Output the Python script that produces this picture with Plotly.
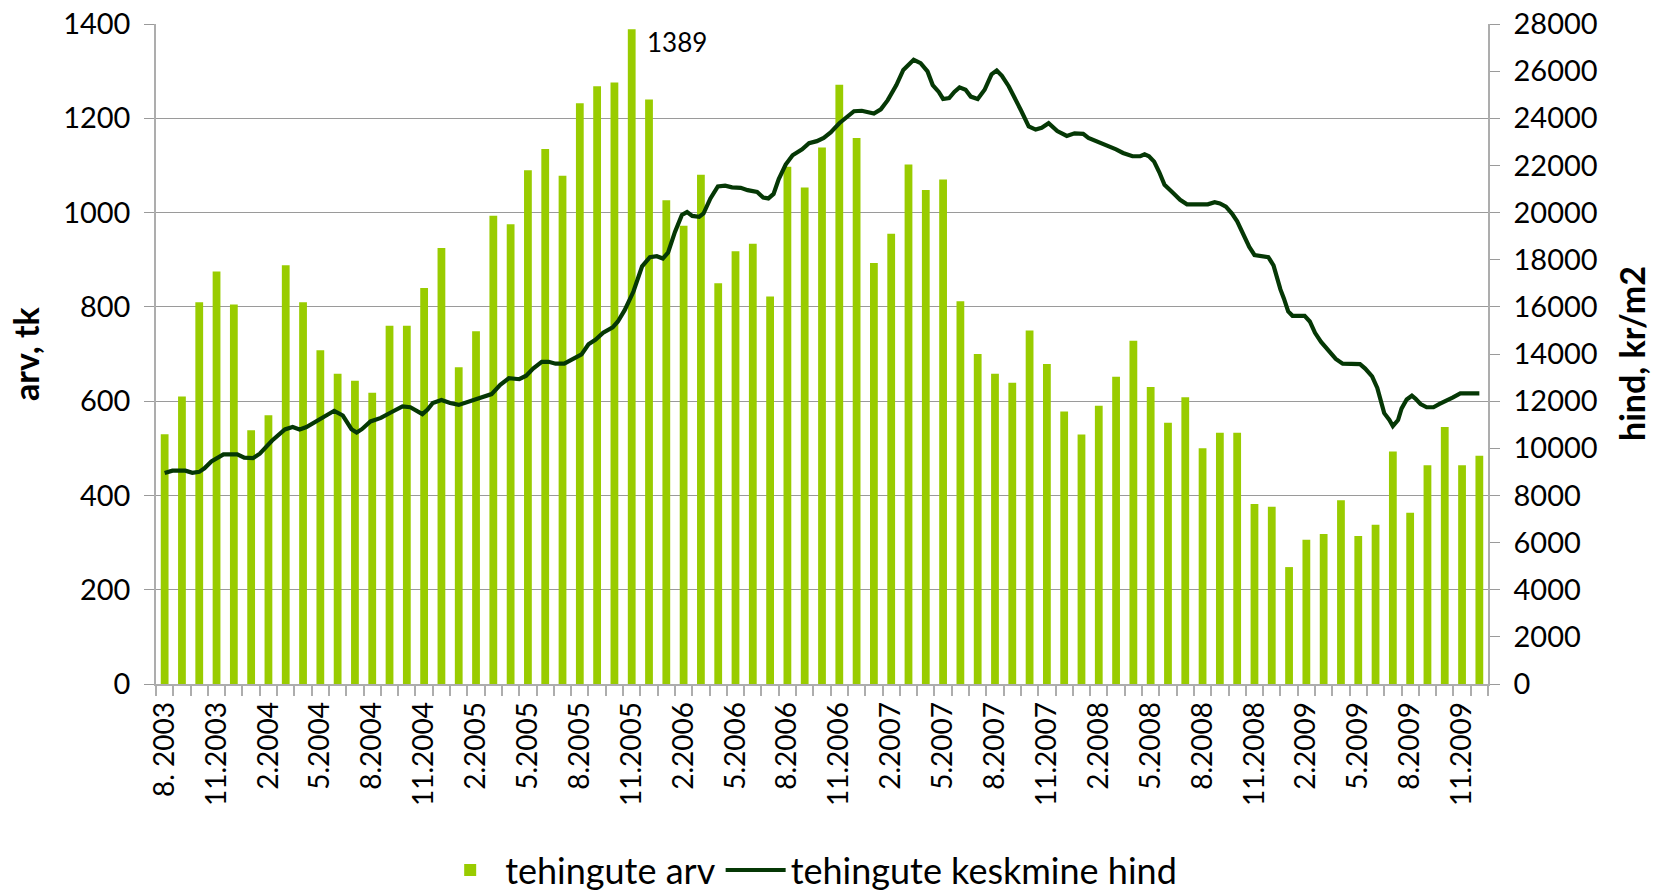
import plotly.graph_objects as go

# ---------------- data ----------------
# monthly number of transactions, 8.2003 ... 12.2009 (77 months)
deal_counts = [
    530, 610, 810, 875, 805, 538, 570, 888, 810, 708, 658, 643,
    618, 760, 760, 840, 925, 672, 748, 993, 975, 1090, 1135, 1078,
    1232, 1268, 1276, 1389, 1240, 1026, 972, 1080, 850, 918, 934, 822,
    1097, 1053, 1138, 1271, 1158, 893, 955, 1102, 1048, 1070, 812, 700,
    658, 639, 750, 679, 578, 529, 590, 652, 728, 630, 554, 608,
    500, 533, 533, 382, 376, 248, 306, 318, 390, 314, 338, 493,
    363, 464, 545, 464, 484,
]

# x tick labels (every third month)
tick_labels = [
    "8. 2003", "11.2003", "2.2004", "5.2004", "8.2004", "11.2004",
    "2.2005", "5.2005", "8.2005", "11.2005", "2.2006", "5.2006",
    "8.2006", "11.2006", "2.2007", "5.2007", "8.2007", "11.2007",
    "2.2008", "5.2008", "8.2008", "11.2008", "2.2009", "5.2009",
    "8.2009", "11.2009",
]

# average price (kr/m2), moving average, months elapsed since 8.2003
price_month = [
    0.0, 0.45, 1.2, 1.6, 2.0, 2.3, 2.7, 3.4, 4.2, 4.6, 5.1, 5.5, 6.2, 6.95,
    7.4, 7.8, 8.2, 8.9, 9.3, 9.8, 10.3, 10.8, 11.1, 11.4, 11.9, 12.5, 13.1,
    13.75, 14.2, 14.6, 14.9, 15.2, 15.5, 16.0, 16.5, 17.0, 17.5, 18.0, 18.5,
    18.9, 19.4, 19.9, 20.5, 20.9, 21.3, 21.8, 22.2, 22.6, 23.1, 23.7, 24.1,
    24.5, 24.9, 25.35, 25.9, 26.2, 26.6, 27.1, 27.6, 28.05, 28.45, 28.8,
    29.1, 29.5, 29.9, 30.2, 30.5, 30.9, 31.15, 31.55, 31.98, 32.4, 32.8,
    33.3, 33.7, 34.25, 34.6, 34.9, 35.2, 35.5, 35.9, 36.3, 36.85, 37.25,
    37.7, 38.1, 38.5, 39.0, 39.4, 39.85, 40.3, 40.7, 41.0, 41.4, 41.8, 42.3,
    42.7, 43.3, 43.7, 44.1, 44.4, 44.75, 45.0, 45.35, 45.65, 45.95, 46.3,
    46.6, 47.0, 47.4, 47.8, 48.1, 48.4, 48.8, 49.2, 49.5, 49.95, 50.35,
    50.7, 51.1, 51.6, 52.15, 52.6, 53.1, 53.4, 53.95, 54.5, 55.0, 55.4,
    55.95, 56.4, 56.65, 56.9, 57.2, 57.5, 57.8, 58.3, 58.7, 59.1, 59.7,
    60.3, 60.7, 61.0, 61.35, 61.7, 62.0, 62.4, 62.7, 63.0, 63.5, 63.8,
    64.1, 64.3, 64.5, 64.7, 64.95, 65.2, 65.6, 65.9, 66.2, 66.5, 66.85,
    67.3, 67.7, 68.1, 68.6, 69.1, 69.4, 69.8, 70.1, 70.3, 70.5, 70.8,
    71.0, 71.3, 71.5, 71.8, 72.1, 72.3, 72.6, 72.95, 73.35, 73.7, 74.0,
    74.45, 74.9, 75.4, 76.0,
]
price_value = [
    8950, 9050, 9050, 8960, 9000, 9150, 9440, 9740, 9740, 9600, 9580, 9770,
    10320, 10800, 10900, 10800, 10900, 11220, 11390, 11590, 11390, 10810,
    10670, 10810, 11140, 11290, 11530, 11780, 11740, 11550, 11450, 11640,
    11920, 12050, 11920, 11840, 11960, 12070, 12170, 12300, 12690, 12970,
    12930, 13080, 13380, 13670, 13670, 13590, 13590, 13820, 13980, 14410,
    14600, 14900, 15130, 15380, 15870, 16650, 17720, 18110, 18150, 18050,
    18300, 19180, 19900, 20020, 19860, 19820, 19960, 20600, 21110, 21140,
    21070, 21050, 20950, 20870, 20640, 20600, 20790, 21420, 22040, 22430,
    22680, 22940, 23030, 23170, 23400, 23790, 24050, 24300, 24320, 24240,
    24200, 24380, 24770, 25410, 26050, 26480, 26340, 25990, 25410, 25120,
    24820, 24860, 25120, 25310, 25210, 24920, 24820, 25210, 25860, 26030,
    25800, 25350, 24820, 24340, 23660, 23520, 23600, 23790, 23460, 23250,
    23360, 23340, 23170, 23010, 22840, 22680, 22530, 22390, 22390, 22470,
    22390, 22160, 21710, 21180, 20830, 20540, 20350, 20350, 20350, 20440,
    20390, 20250, 19960, 19630, 19040, 18540, 18200, 18150, 18110, 17760,
    17230, 16740, 16360, 15810, 15620, 15620, 15620, 15380, 14900, 14510,
    14120, 13790, 13590, 13590, 13570, 13380, 13050, 12560, 12070, 11490,
    11200, 10940, 11200, 11680, 12070, 12230, 12110, 11880, 11740, 11740,
    11880, 11970, 12150, 12330, 12330, 12330,
]

bar_name = "tehingute arv"
line_name = "tehingute keskmine hind"
left_title = "arv, tk"
right_title = "hind, kr/m2"

# ---------------- styling ----------------
BAR_COLOR = "#99CC00"
LINE_COLOR = "#053805"
GRID_COLOR = "#9A9A9A"
AXIS_COLOR = "#ADADAD"
FONT = "Lato, 'Open Sans', sans-serif"

n = len(deal_counts)
positions = list(range(n))
tick_positions = positions[::3]
boundaries = [p - 0.5 for p in positions] + [n - 0.5]

fig = go.Figure()
fig.add_trace(go.Bar(
    x=positions, y=deal_counts, name=bar_name,
    marker=dict(color=BAR_COLOR, line=dict(width=0)),
    width=0.45, yaxis="y",
))
fig.add_trace(go.Scatter(
    x=price_month, y=price_value, name=line_name, mode="lines",
    line=dict(color=LINE_COLOR, width=4.2), yaxis="y2",
))

# data label on the highest bar
peak_idx = deal_counts.index(max(deal_counts))
fig.add_annotation(
    x=positions[peak_idx], y=deal_counts[peak_idx], xref="x", yref="y",
    text=str(deal_counts[peak_idx]), showarrow=False,
    xanchor="left", yanchor="top", xshift=13, yshift=5,
    font=dict(family=FONT, size=26, color="#000000"),
)

# axis titles
title_font = dict(family=FONT, size=34, color="#000000")
fig.add_annotation(
    x=0, y=0.5, xref="paper", yref="paper", text="<b>" + left_title + "</b>",
    textangle=-90, showarrow=False, xanchor="center", yanchor="middle",
    xshift=-131, font=title_font,
)
fig.add_annotation(
    x=1, y=0.5, xref="paper", yref="paper", text="<b>" + right_title + "</b>",
    textangle=-90, showarrow=False, xanchor="center", yanchor="middle",
    xshift=143, font=title_font,
)

fig.update_layout(
    width=1655, height=894,
    margin=dict(l=156, r=167, t=24, b=210, autoexpand=False),
    paper_bgcolor="white", plot_bgcolor="white",
    font=dict(family=FONT, color="#000000"),
    showlegend=True,
    legend=dict(
        orientation="h", x=0.49, xanchor="center", y=-0.282, yanchor="middle",
        font=dict(family=FONT, size=36, color="#000000"),
        itemwidth=60, traceorder="normal", bgcolor="rgba(0,0,0,0)",
    ),
    xaxis=dict(
        range=[-0.5, n - 0.5], automargin=False,
        tickmode="array", tickvals=tick_positions, ticktext=tick_labels,
        tickangle=-90, ticks="", ticklabelstandoff=5,
        ticklabeloverflow="allow",
        tickfont=dict(family=FONT, size=28, color="#000000"),
        showline=True, linecolor=AXIS_COLOR, linewidth=1.5,
        showgrid=False, zeroline=False,
        minor=dict(tickmode="array", tickvals=boundaries, ticks="outside",
                   ticklen=10, tickcolor=AXIS_COLOR, tickwidth=1.5,
                   showgrid=False),
    ),
    yaxis=dict(
        range=[0, 1400], tickmode="linear", tick0=0, dtick=200,
        automargin=False, ticklabeloverflow="allow",
        tickfont=dict(family=FONT, size=29, color="#000000"),
        ticks="outside", ticklen=10, tickcolor=GRID_COLOR, tickwidth=1,
        showgrid=True, gridcolor=GRID_COLOR, gridwidth=1,
        showline=True, linecolor=AXIS_COLOR, linewidth=1.5,
        zeroline=False, ticklabelstandoff=8,
    ),
    yaxis2=dict(
        range=[0, 28000], tickmode="linear", tick0=0, dtick=2000,
        tickformat="d", automargin=False, ticklabeloverflow="allow",
        overlaying="y", side="right",
        tickfont=dict(family=FONT, size=29, color="#000000"),
        ticks="outside", ticklen=10, tickcolor=GRID_COLOR, tickwidth=1,
        showgrid=False, showline=True, linecolor=AXIS_COLOR, linewidth=1.5,
        zeroline=False, ticklabelstandoff=8,
    ),
)

# let the figure start at the window's top-left corner
fig.write_html(
    "out.html",
    config={"displayModeBar": False},
    post_script="document.body.style.margin='0';",
)
